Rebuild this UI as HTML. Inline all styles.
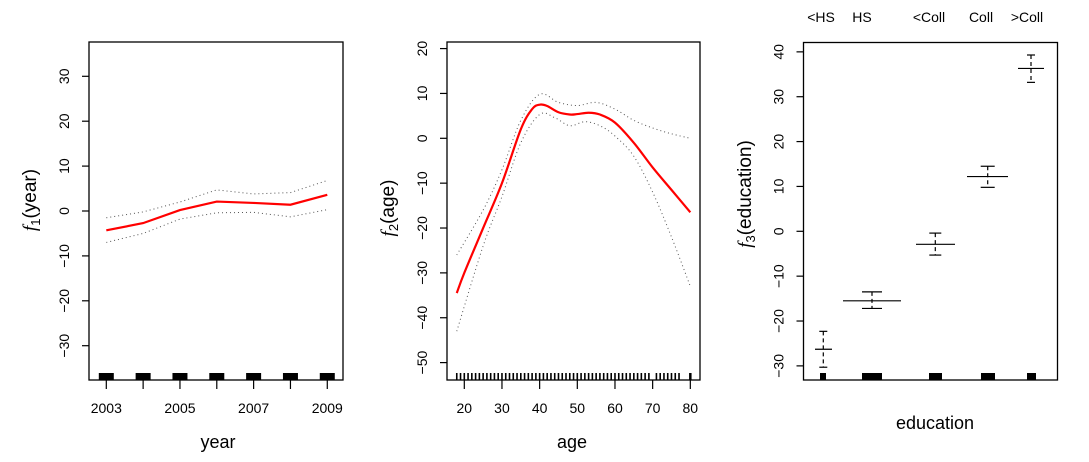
<!DOCTYPE html>
<html><head><meta charset="utf-8"><style>
html,body{margin:0;padding:0;background:#fff;}
svg text{font-family:"Liberation Sans",sans-serif;fill:#000;}
</style></head><body>
<svg id="s" width="1089" height="457" xmlns="http://www.w3.org/2000/svg">
<rect width="1089" height="457" fill="#fff"/>
<rect x="89" y="42" width="254" height="338" fill="none" stroke="#000" stroke-width="1.3"/>
<rect x="447" y="42" width="253" height="338" fill="none" stroke="#000" stroke-width="1.3"/>
<rect x="803.5" y="42.5" width="254" height="337.5" fill="none" stroke="#000" stroke-width="1.3"/>
<g id="g"></g>
<text x="218" y="448" font-size="18" text-anchor="middle">year</text>
<text x="572" y="448" font-size="18" text-anchor="middle">age</text>
<text x="935" y="429" font-size="18" text-anchor="middle">education</text>
<text transform="translate(36,200) rotate(-90)" font-size="19" text-anchor="middle"><tspan font-family="Liberation Serif" font-style="italic">f</tspan><tspan font-size="13" dy="4">1</tspan><tspan dy="-4">(year)</tspan></text>
<text transform="translate(394,208) rotate(-90)" font-size="19" text-anchor="middle"><tspan font-family="Liberation Serif" font-style="italic">f</tspan><tspan font-size="13" dy="4">2</tspan><tspan dy="-4">(age)</tspan></text>
<text transform="translate(751,194) rotate(-90)" font-size="19" text-anchor="middle"><tspan font-family="Liberation Serif" font-style="italic">f</tspan><tspan font-size="13" dy="4">3</tspan><tspan dy="-4">(education)</tspan></text>
<g font-size="14" text-anchor="middle">
<text x="821" y="22">&lt;HS</text><text x="862" y="22">HS</text><text x="929" y="22">&lt;Coll</text><text x="981" y="22">Coll</text><text x="1027" y="22">&gt;Coll</text>
</g>
</svg>
<script>
var g=document.getElementById('g'),ns='http://www.w3.org/2000/svg';
function el(t,a,txt){var e=document.createElementNS(ns,t);for(var k in a)e.setAttribute(k,a[k]);if(txt!=null)e.textContent=txt;g.appendChild(e);return e;}
function line(x1,y1,x2,y2,w,extra){var a={x1:x1,y1:y1,x2:x2,y2:y2,stroke:'#000','stroke-width':w||1.2};for(var k in extra)a[k]=extra[k];el('line',a);}
function yaxis(x0,yf,vals){vals.forEach(function(v){var y=yf(v);line(x0-7,y,x0,y);el('text',{transform:'translate('+(x0-20)+','+y+') rotate(-90)','font-size':14,'text-anchor':'middle'},v<0?'\u2212'+(-v):v);});}
function cr(pts,fx,fy){var p=pts.map(function(q){return[fx(q[0]),fy(q[1])];});var d='M'+p[0][0]+','+p[0][1];
 for(var i=0;i<p.length-1;i++){var p0=p[i-1]||p[i],p1=p[i],p2=p[i+1],p3=p[i+2]||p2;
 d+=' C'+(p1[0]+(p2[0]-p0[0])/6)+','+(p1[1]+(p2[1]-p0[1])/6)+' '+(p2[0]-(p3[0]-p1[0])/6)+','+(p2[1]-(p3[1]-p1[1])/6)+' '+p2[0]+','+p2[1];}return d;}
var y1=function(v){return 211-v*4.49;},x1=function(v){return 106.3+(v-2003)*36.83;};
yaxis(89,y1,[-30,-20,-10,0,10,20,30]);
[2003,2004,2005,2006,2007,2008,2009].forEach(function(yr){var x=x1(yr);el('rect',{x:x-7.5,y:373,width:15,height:7,fill:'#000'});line(x,380,x,389);});
[2003,2005,2007,2009].forEach(function(yr){el('text',{x:x1(yr),y:413,'font-size':14,'text-anchor':'middle'},yr);});
function pl(ys){return ys.map(function(v,i){return x1(2003+i)+','+y1(v);}).join(' ');}
el('polyline',{points:pl([-1.5,-0.2,2.0,4.7,3.8,4.1,6.8]),fill:'none',stroke:'#555','stroke-width':1,'stroke-dasharray':'1 3'});
el('polyline',{points:pl([-7,-5,-1.8,-0.4,-0.3,-1.3,0.3]),fill:'none',stroke:'#555','stroke-width':1,'stroke-dasharray':'1 3'});
el('polyline',{points:pl([-4.3,-2.7,0.2,2.1,1.8,1.4,3.6]),fill:'none',stroke:'#f00','stroke-width':2.2});
var y2=function(v){return 138.3-v*4.486;},x2=function(v){return 464.3+(v-20)*3.767;};
yaxis(447,y2,[-50,-40,-30,-20,-10,0,10,20]);
[20,30,40,50,60,70,80].forEach(function(a){var x=x2(a);line(x,380,x,389);el('text',{x:x,y:413,'font-size':14,'text-anchor':'middle'},a);});
for(var a=18;a<=77;a+=1){if(a==70||a==78||a==79)continue;line(x2(a),373,x2(a),380,1.6);}
line(x2(80),373,x2(80),380,2.5);
el('path',{d:cr([[18,-26],[25,-16],[30,-7],[35,4],[40,9.8],[45,8],[50,7.3],[55,8],[60,6.5],[65,4],[70,2.3],[75,1],[80,0]],x2,y2),fill:'none',stroke:'#555','stroke-width':1,'stroke-dasharray':'1 3'});
el('path',{d:cr([[18,-43],[25,-24],[30,-13],[35,-1],[40,5.3],[44,4.6],[48,2.8],[52,3.7],[56,2.8],[60,0.5],[65,-4],[70,-12],[75,-22],[80,-33]],x2,y2),fill:'none',stroke:'#555','stroke-width':1,'stroke-dasharray':'1 3'});
el('path',{d:cr([[18,-34.5],[20,-30],[25,-20],[30,-10],[35,2],[38,6.5],[40,7.5],[42,7.2],[45,5.8],[48,5.3],[50,5.4],[53,5.7],[56,5.3],[60,3.5],[65,-1],[70,-6.5],[75,-11.5],[80,-16.5]],x2,y2),fill:'none',stroke:'#f00','stroke-width':2.2});
var y3=function(v){return 231.3-v*4.486;};
yaxis(803.5,y3,[-30,-20,-10,0,10,20,30,40]);
[[823.3,815,832,-26.3,-22.3,-30.3,4,820,6],[872,843,901,-15.5,-13.5,-17.2,10,862,20],[935.3,916,955,-2.9,-0.4,-5.3,6,929,13],[987.7,967,1008,12.2,14.5,9.8,7,981,14],[1031,1018,1044,36.3,39.3,33.2,4,1027,9]].forEach(function(c){
 line(c[1],y3(c[3]),c[2],y3(c[3]));
 line(c[0],y3(c[4]),c[0],y3(c[5]),1.2,{'stroke-dasharray':'4 3'});
 line(c[0]-c[6],y3(c[4]),c[0]+c[6],y3(c[4]));line(c[0]-c[6],y3(c[5]),c[0]+c[6],y3(c[5]));
 el('rect',{x:c[7],y:373,width:c[8],height:7,fill:'#000'});});
</script>
</body></html>
